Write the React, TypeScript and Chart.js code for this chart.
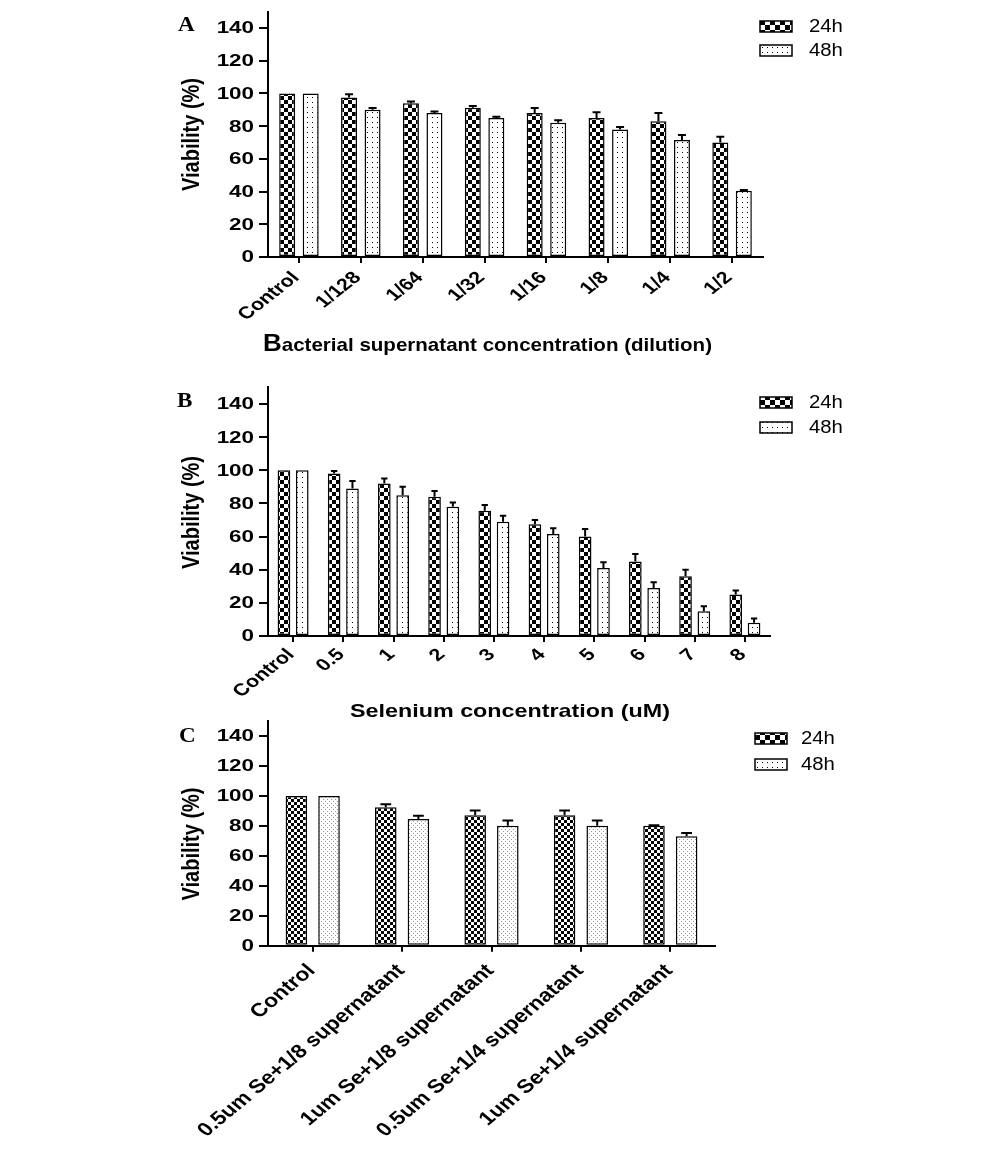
import React, { useEffect, useRef } from "react";
import { Chart, registerables } from "chart.js";

Chart.register(...registerables);

// ---------- DATA ----------
const seriesNames = ["24h", "48h"];
const yTicks = [0, 20, 40, 60, 80, 100, 120, 140];

const catsA = ["Control", "1/128", "1/64", "1/32", "1/16", "1/8", "1/4", "1/2"];
const a24 = [100, 97.5, 94, 91.3, 88, 85, 83, 70];
const a48 = [100, 90, 88, 85, 82, 78, 71.5, 40.5];
const a24err = [0, 2, 1, 1, 3, 3.5, 5, 3.5];
const a48err = [0, 1, 1, 0.8, 1.6, 1.4, 3, 0.5];

const catsB = ["Control", "0.5", "1", "2", "3", "4", "5", "6", "7", "8"];
const b24 = [100, 98, 92, 84, 75.5, 67.5, 60, 45, 36, 25];
const b48 = [100, 89, 85, 78, 69, 61.5, 41, 29, 15, 8];
const b24err = [0, 1.5, 3, 3.5, 3.5, 2.5, 4.5, 4.5, 4, 2.5];
const b48err = [0, 4.5, 5, 2.5, 3.5, 3.5, 3.5, 3.5, 3, 2.5];

const catsC = [
  "Control",
  "0.5um Se+1/8 supernatant",
  "1um Se+1/8 supernatant",
  "0.5um Se+1/4 supernatant",
  "1um Se+1/4 supernatant",
];
const c24 = [100, 92.5, 87, 87, 80];
const c48 = [100, 84.5, 80, 80, 73];
const c24err = [0, 2, 3.3, 3.3, 0.4];
const c48err = [0, 2.2, 3.5, 3.5, 2.2];

const yTitle = "Viability (%)";
const xTitleA = "Bacterial supernatant concentration (dilution)";
const xTitleB = "Selenium concentration (uM)";

// ---------- helpers ----------
const SANS = '"Liberation Sans", Arial, sans-serif';
const SERIF = '"Liberation Serif", "Times New Roman", serif';

function makeTile(size: number, draw: (c: CanvasRenderingContext2D) => void) {
  const c = document.createElement("canvas");
  c.width = size;
  c.height = size;
  const x = c.getContext("2d")!;
  x.fillStyle = "#fff";
  x.fillRect(0, 0, size, size);
  draw(x);
  return c;
}

function checker(ctx: CanvasRenderingContext2D, cell: number) {
  const t = makeTile(cell * 2, (x) => {
    x.fillStyle = "#000";
    x.fillRect(0, 0, cell, cell);
    x.fillRect(cell, cell, cell, cell);
  });
  return ctx.createPattern(t, "repeat")!;
}

function dots(ctx: CanvasRenderingContext2D, step: number, color: string, stagger: boolean) {
  const size = stagger ? step * 2 : step;
  const t = makeTile(size, (x) => {
    x.fillStyle = color;
    x.fillRect(Math.floor(step / 2), Math.floor(step / 2), 1, 1);
    if (stagger) x.fillRect(Math.floor(step / 2) + step, Math.floor(step / 2) + step, 1, 1);
  });
  return ctx.createPattern(t, "repeat")!;
}

function sText(
  ctx: CanvasRenderingContext2D,
  text: string,
  x: number,
  y: number,
  font: string,
  sx: number,
  align: CanvasTextAlign,
  baseline: CanvasTextBaseline,
  rot = 0
) {
  ctx.save();
  ctx.translate(x, y);
  ctx.scale(sx, 1);
  if (rot) ctx.rotate(rot);
  ctx.font = font;
  ctx.textAlign = align;
  ctx.textBaseline = baseline;
  ctx.fillStyle = "#000";
  ctx.fillText(text, 0, 0);
  ctx.restore();
}

type PanelCfg = {
  letter: string;
  cats: string[];
  v24: number[];
  v48: number[];
  e24: number[];
  e48: number[];
  top: number; // canvas top on page
  height: number;
  area: { left: number; right: number; top: number; bottom: number }; // page coords
  catPct: number;
  barPct: number;
  fine: boolean;
  letterPos: [number, number];
  yTitleY: number;
  xTitle?: { text: string; x: number; y: number; w: number };
  legend: { x: number; ys: number[]; tx: number };
  xLab: { size: number; sx: number; dx: number; dy: number };
};

const panels: PanelCfg[] = [
  {
    letter: "A",
    cats: catsA,
    v24: a24,
    v48: a48,
    e24: a24err,
    e48: a48err,
    top: 0,
    height: 360,
    area: { left: 268, right: 763, top: 11.6, bottom: 257 },
    catPct: 0.76,
    barPct: 0.68,
    fine: false,
    letterPos: [178, 31],
    yTitleY: 134.5,
    xTitle: { text: xTitleA, x: 263, y: 351, w: 449 },
    legend: { x: 760, ys: [21, 45], tx: 809 },
    xLab: { size: 17, sx: 1.27, dx: -3, dy: 18 },
  },
  {
    letter: "B",
    cats: catsB,
    v24: b24,
    v48: b48,
    e24: b24err,
    e48: b48err,
    top: 360,
    height: 370,
    area: { left: 268, right: 770, top: 387.4, bottom: 636 },
    catPct: 0.73,
    barPct: 0.69,
    fine: false,
    letterPos: [177, 407],
    yTitleY: 512.5,
    xTitle: { text: xTitleB, x: 350, y: 717, w: 320 },
    legend: { x: 760, ys: [397, 422], tx: 809 },
    xLab: { size: 17, sx: 1.27, dx: -2, dy: 16 },
  },
  {
    letter: "C",
    cats: catsC,
    v24: c24,
    v48: c48,
    e24: c24err,
    e48: c48err,
    top: 700,
    height: 458,
    area: { left: 268, right: 715, top: 721, bottom: 945.7 },
    catPct: 0.73,
    barPct: 0.66,
    fine: true,
    letterPos: [179, 742],
    yTitleY: 844,
    legend: { x: 755, ys: [733, 759], tx: 801 },
    xLab: { size: 19, sx: 1.2, dx: -1, dy: 22 },
  },
];

function Panel({ cfg }: { cfg: PanelCfg }) {
  const ref = useRef<HTMLCanvasElement | null>(null);
  useEffect(() => {
    const canvas = ref.current!;
    const ctx = canvas.getContext("2d")!;
    const off = cfg.top;
    const A = cfg.area;
    const pat24 = checker(ctx, cfg.fine ? 3 : 4);
    const pat48 = cfg.fine ? dots(ctx, 2, "#9a9a9a", true) : dots(ctx, 5, "#000", false);
    const leg24 = checker(ctx, 5);
    const leg48 = dots(ctx, 5, "#000", false);
    const errs = [cfg.e24, cfg.e48];
    const vals = [cfg.v24, cfg.v48];

    const decor = {
      id: "decor",
      afterDatasetsDraw(chart: any) {
        const c = chart.ctx as CanvasRenderingContext2D;
        const ys = chart.scales.y;
        c.save();
        c.strokeStyle = "#000";
        c.lineWidth = 2;
        for (let d = 0; d < 2; d++) {
          const meta = chart.getDatasetMeta(d);
          meta.data.forEach((el: any, j: number) => {
            const e = errs[d][j];
            if (!e) return;
            const yt = ys.getPixelForValue(vals[d][j] + e);
            const cap = el.width * 0.5;
            c.beginPath();
            c.moveTo(el.x, el.y);
            c.lineTo(el.x, yt);
            c.moveTo(el.x - cap / 2, yt);
            c.lineTo(el.x + cap / 2, yt);
            c.stroke();
          });
        }
        c.restore();
      },
      afterDraw(chart: any) {
        const c = chart.ctx as CanvasRenderingContext2D;
        const area = chart.chartArea;
        const ys = chart.scales.y;
        const xs = chart.scales.x;
        // y tick labels
        yTicks.forEach((v) => {
          sText(c, String(v), area.left - 14, ys.getPixelForValue(v) + 1, `bold 16px ${SANS}`, 1.4, "right", "middle");
        });
        // x tick labels
        cfg.cats.forEach((lab, i) => {
          const x = xs.getPixelForValue(i);
          sText(
            c,
            lab,
            x + cfg.xLab.dx,
            area.bottom + cfg.xLab.dy,
            `bold ${cfg.xLab.size}px ${SANS}`,
            cfg.xLab.sx,
            "right",
            "middle",
            -Math.PI / 4
          );
        });
        // y title
        sText(c, yTitle, 199, cfg.yTitleY - off, `bold 20px ${SANS}`, 1.2, "center", "alphabetic", -Math.PI / 2);
        // panel letter
        sText(c, cfg.letter, cfg.letterPos[0], cfg.letterPos[1] - off, `bold 21px ${SERIF}`, 1.1, "left", "alphabetic");
        // x title
        if (cfg.xTitle) {
          const t = cfg.xTitle;
          c.save();
          if (t.text === xTitleA) {
            c.font = `bold 24px ${SANS}`;
            const wB = c.measureText(t.text[0]).width;
            c.font = `bold 19px ${SANS}`;
            const wR = c.measureText(t.text.slice(1)).width;
            const sx = t.w / (wB + wR);
            sText(c, t.text[0], t.x, t.y - off, `bold 24px ${SANS}`, sx, "left", "alphabetic");
            sText(c, t.text.slice(1), t.x + wB * sx, t.y - off, `bold 19px ${SANS}`, sx, "left", "alphabetic");
          } else {
            c.font = `bold 19px ${SANS}`;
            const w = c.measureText(t.text).width;
            sText(c, t.text, t.x, t.y - off, `bold 19px ${SANS}`, t.w / w, "left", "alphabetic");
          }
          c.restore();
        }
        // legend
        const L = cfg.legend;
        [leg24, leg48].forEach((p, k) => {
          const y = L.ys[k] - off;
          c.save();
          c.fillStyle = p;
          c.fillRect(L.x, y, 32, 11);
          c.strokeStyle = "#000";
          c.lineWidth = 1.5;
          c.strokeRect(L.x, y, 32, 11);
          c.restore();
          sText(c, seriesNames[k], L.tx, y + 6, `18px ${SANS}`, 1.13, "left", "middle");
        });
      },
    };

    const chart = new Chart(canvas, {
      type: "bar",
      data: {
        labels: cfg.cats,
        datasets: [
          {
            label: seriesNames[0],
            data: cfg.v24,
            backgroundColor: pat24 as any,
            borderColor: "#000",
            borderWidth: 1.5,
            borderSkipped: false,
            categoryPercentage: cfg.catPct,
            barPercentage: cfg.barPct,
          },
          {
            label: seriesNames[1],
            data: cfg.v48,
            backgroundColor: pat48 as any,
            borderColor: "#000",
            borderWidth: 1.5,
            borderSkipped: false,
            categoryPercentage: cfg.catPct,
            barPercentage: cfg.barPct,
          },
        ],
      },
      options: {
        responsive: false,
        animation: false,
        events: [],
        layout: {
          padding: { left: 0, top: A.top - off, right: 1000 - A.right, bottom: 0 },
        },
        plugins: { legend: { display: false }, tooltip: { enabled: false } },
        scales: {
          x: {
            type: "category",
            grid: {
              display: true,
              drawOnChartArea: false,
              drawTicks: true,
              tickLength: 6,
              color: "#000",
              lineWidth: 2,
              offset: false,
            },
            border: { display: true, color: "#000", width: 2 },
            ticks: { display: false },
            afterFit: (s: any) => {
              s.height = cfg.height - (A.bottom - off);
            },
          },
          y: {
            min: 0,
            max: 150,
            grid: {
              display: true,
              drawOnChartArea: false,
              drawTicks: true,
              tickLength: 9,
              color: "#000",
              lineWidth: 2,
            },
            border: { display: true, color: "#000", width: 2 },
            ticks: { display: false, stepSize: 20, includeBounds: false },
            afterFit: (s: any) => {
              s.width = A.left;
            },
          },
        },
      },
      plugins: [decor],
    } as any);
    return () => chart.destroy();
  }, [cfg]);
  return (
    <canvas
      ref={ref}
      width={1000}
      height={cfg.height}
      style={{ position: "absolute", left: 0, top: cfg.top, width: 1000, height: cfg.height, display: "block" }}
    />
  );
}

export default function App() {
  return (
    <div style={{ position: "absolute", left: 0, top: 0, width: 1000, height: 1158, background: "#fff", overflow: "hidden" }}>
      {panels.map((p) => (
        <Panel key={p.letter} cfg={p} />
      ))}
    </div>
  );
}
